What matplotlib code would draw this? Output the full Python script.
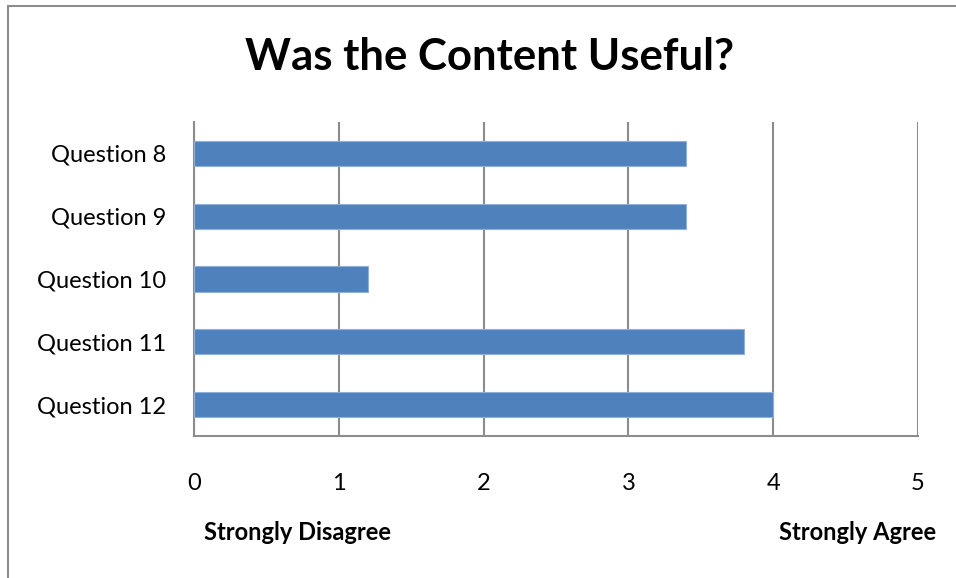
import matplotlib
matplotlib.use("Agg")
import matplotlib.pyplot as plt
from matplotlib.patches import Rectangle

categories = ["Question 8", "Question 9", "Question 10", "Question 11", "Question 12"]
values = [3.4, 3.4, 1.2, 3.8, 4.0]
xticks = [0, 1, 2, 3, 4, 5]
title = "Was the Content Useful?"
left_label = "Strongly Disagree"
right_label = "Strongly Agree"

plt.rcParams['font.family'] = ['Lato', 'DejaVu Sans']

fig = plt.figure(figsize=(9.56, 5.78), dpi=100)
ax = fig.add_axes([194/956, 1 - 436/578, (918-194)/956, (436-122)/578])

# outer chart border
fig.patches.append(Rectangle((8/956, -0.01), 1.0, 1 - 6/578 + 0.01, transform=fig.transFigure,
                             fill=False, edgecolor="#8c8c8c", linewidth=1.5))

y = list(range(len(categories)))
ax.barh(y, values, height=0.4, color="#4F81BD", edgecolor="#8eb0da", linewidth=0.8, zorder=3)
ax.set_ylim(len(categories) - 0.5, -0.5)
ax.set_xlim(0, 5)
ax.set_yticks(y)
ax.set_yticklabels(categories, fontsize=17)
ax.set_xticks(xticks)
ax.set_xticklabels([str(t) for t in xticks], fontsize=17)
ax.tick_params(axis='y', length=0, pad=20)
ax.tick_params(axis='x', length=0, pad=27)
ax.grid(axis='x', color="#8c8c8c", linewidth=1.5, zorder=0)
for s in ["top", "right"]:
    ax.spines[s].set_visible(False)
for s in ["left", "bottom"]:
    ax.spines[s].set_color("#8c8c8c")
    ax.spines[s].set_linewidth(1.5)

fig.text(490/956, 1 - 57/578, title, fontsize=31.5, fontweight='bold', ha='center', va='center')
fig.text(298/956, 1 - 533/578, left_label, fontsize=17, fontweight='bold', ha='center', va='center')
fig.text(858/956, 1 - 533/578, right_label, fontsize=17, fontweight='bold', ha='center', va='center')

fig.savefig("out.png", dpi=100)
